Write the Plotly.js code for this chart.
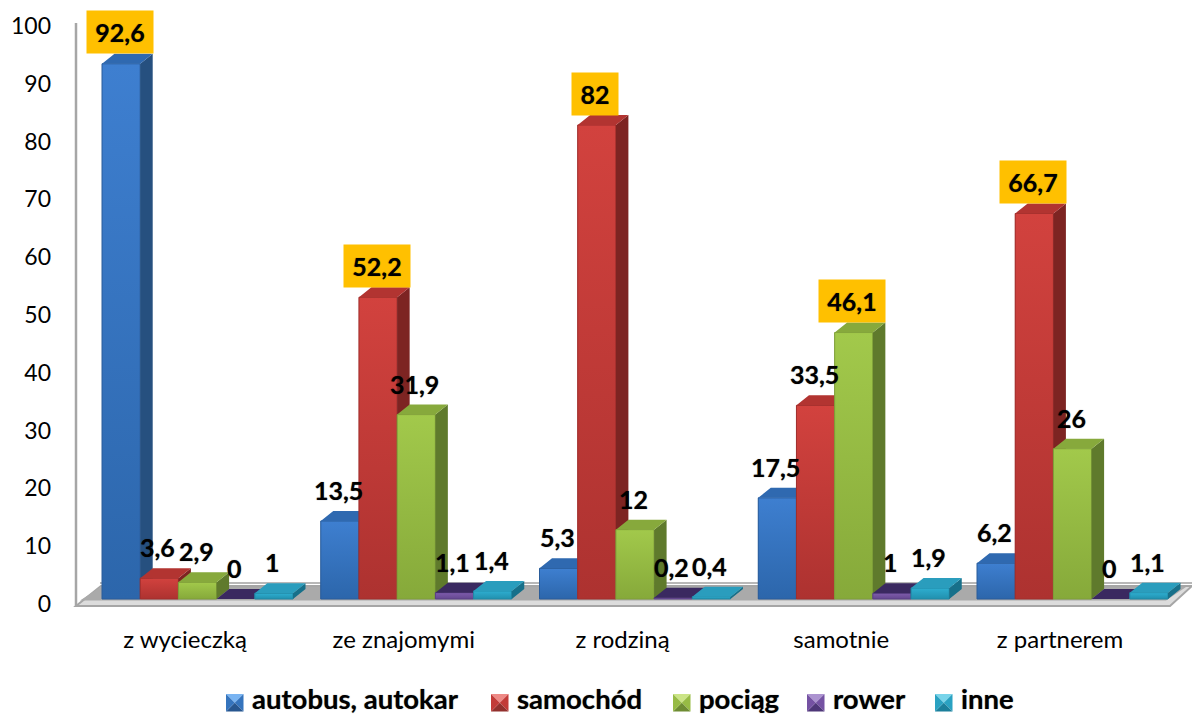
<!DOCTYPE html>
<html><head><meta charset="utf-8">
<script src="https://cdn.plot.ly/plotly-3.0.1.min.js"></script>
<style>html,body{margin:0;padding:0;background:#fff}#c{width:1192px;height:715px}</style></head>
<body><div id="c"></div>
<script>
const categories = ["z wycieczką","ze znajomymi","z rodziną","samotnie","z partnerem"];
const seriesNames = ["autobus, autokar","samochód","pociąg","rower","inne"];
const autobus = [92.6,13.5,5.3,17.5,6.2];
const samochod = [3.6,52.2,82,33.5,66.7];
const pociag = [2.9,31.9,12,46.1,26];
const rower = [0,1.1,0.2,1,0];
const inne = [1,1.4,0.4,1.9,1.1];
const yTicks = [0,10,20,30,40,50,60,70,80,90,100];

const W=1192,H=715,mL=62,mR=0,mT=10,mB=100;
const pxPerCat=218.75,pxPerUnit=5.78,x0px=197.5,y0px=599;
const barPx=38.2,dxPx=12.5,dyPx=10;
const xr=[(mL-x0px)/pxPerCat,(W-mR-x0px)/pxPerCat];
const yr=[(y0px-(H-mB))/pxPerUnit,(y0px-mT)/pxPerUnit];
const bw=barPx/pxPerCat,dx=dxPx/pxPerCat,dy=dyPx/pxPerUnit;
const px2x=p=>(p-mL)/(W-mL-mR), px2y=p=>(H-mB-p)/(H-mT-mB);

const palette=[
 {top:'#2f69b0',front0:'#3e7fd0',front1:'#2c66ab',side:'#26507f',edge:'#2a5c9a',sw:['#79b4f2','#3574bd','#27568f','#3574bd']},
 {top:'#b23431',front0:'#d2423e',front1:'#ad3230',side:'#7d2422',edge:'#a02e2c',sw:['#ee8a86','#c23b38','#92302d','#c23b38']},
 {top:'#87a93c',front0:'#a2c94b',front1:'#86a93a',side:'#5f7a2c',edge:'#7e9e38',sw:['#cbe486','#97bb45','#6e8c33','#97bb45']},
 {top:'#3a2960',front0:'#7e5cab',front1:'#644790',side:'#3f2c60',edge:'#5a4085',sw:['#ac93d0','#7552a3','#4e3778','#7552a3']},
 {top:'#2a9dbd',front0:'#2eaed0',front1:'#2190ae',side:'#17708a',edge:'#2088a5',sw:['#78d4ea','#2aa2c2','#1b7f9b','#2aa2c2']}
];
const allSeries=[autobus,samochod,pociag,rower,inne];
const traces=[];
allSeries.forEach((vals,k)=>{
  const n=k===0?'':String(k+1), xa='x'+n, ya='y'+n, c=palette[k];
  const off=-2.5*bw+k*bw;
  traces.push({type:'bar',name:seriesNames[k],x:categories.map((_,i)=>i),y:vals,offset:off,width:bw,
    marker:{color:c.front1,line:{width:0}},xaxis:xa,yaxis:ya,hoverinfo:'skip',showlegend:false});
  const poly=(xs,ys,color,extra)=>traces.push(Object.assign({type:'scatter',mode:'lines',x:xs,y:ys,fill:'toself',
    fillcolor:color,line:{width:0},xaxis:xa,yaxis:ya,hoverinfo:'skip',showlegend:false},extra||{}));
  const sx=[],sy=[],tx=[],ty=[];
  vals.forEach((v,i)=>{
    const l=i+off,r=l+bw;
    sx.push(r,r+dx,r+dx,r,r,null); sy.push(v,v+dy,dy,0,v,null);
    tx.push(l,r,r+dx,l+dx,l,null); ty.push(v,v,v+dy,v+dy,v,null);
    if(v>0){
      poly([l,r,r,l,l],[v,v,0,0,v],c.front1,{
        fillgradient:{type:'vertical',colorscale:[[0,c.front1],[1,c.front0]],start:0,stop:v},
        line:{width:1,color:c.edge}});
    }
  });
  poly(sx,sy,c.side);
  poly(tx,ty,c.top);
});

const axCommon={visible:false,fixedrange:true};
const labelOffset=-12.5/pxPerCat;
const layout={width:W,height:H,autosize:false,paper_bgcolor:'#fff',plot_bgcolor:'rgba(0,0,0,0)',
  margin:{l:mL,r:mR,t:mT,b:mB,pad:0},showlegend:false,
  font:{family:'Lato, sans-serif',color:'#000'},
  xaxis:{type:'linear',range:xr,tickmode:'array',tickvals:categories.map((_,i)=>i+labelOffset),ticktext:categories,
    showgrid:false,zeroline:false,showline:false,ticks:'',ticklabelstandoff:8,
    tickfont:{family:'Lato, sans-serif',size:24,color:'#000'},fixedrange:true},
  yaxis:{type:'linear',range:yr,tickmode:'array',tickvals:yTicks,ticktext:yTicks.map(String),
    showgrid:false,zeroline:false,showline:false,ticks:'',ticklabelshift:5,ticklabelstandoff:10,
    tickfont:{family:'Lato, sans-serif',size:23,color:'#000'},fixedrange:true},
  shapes:[],annotations:[]};
for(let k=2;k<=5;k++){
  layout['xaxis'+k]=Object.assign({},axCommon,{range:xr,overlaying:'x',anchor:'y'+k,type:'linear'});
  layout['yaxis'+k]=Object.assign({},axCommon,{range:yr,overlaying:'y',anchor:'x'+k,type:'linear'});
}
const pPath=pts=>'M'+pts.map(p=>px2x(p[0])+','+px2y(p[1])).join('L')+'Z';
const paperShape=(pts,fill,line)=>({type:'path',xref:'paper',yref:'paper',path:pPath(pts),fillcolor:fill,
   line:line||{width:0},layer:'below'});
const paperLine=(x0,y0,x1,y1,color,width)=>({type:'line',xref:'paper',yref:'paper',x0:px2x(x0),x1:px2x(x1),y0:px2y(y0),y1:px2y(y1),line:{color,width},layer:'below'});
// floor and wall
layout.shapes.push(paperLine(100,583,1192,583,'#b8b8b8',2));
layout.shapes.push(paperShape([[76,606],[1170,606],[1192,586],[101,586]],'#dcdcdc',{color:'#a6a6a6',width:2}));
layout.shapes.push(paperShape([[80,600.5],[1166,600.5],[1186,587],[101,587]],'#aaaaaa'));
layout.shapes.push(paperLine(76,23,76,607,'#a6a6a6',2.5));

// data labels
const shadow='0 0 1px rgba(0,0,0,0.55)';
allSeries.forEach((vals,k)=>{
  vals.forEach((v,i)=>{
    const groupMax=Math.max(...allSeries.map(s=>s[i]));
    const txt=String(v).replace('.',',');
    const hi=v===groupMax;
    const a={xref:'x',yref:'y',x:i-2.5*bw+k*bw+bw/2,y:v,text:'<b>'+txt+'</b>',showarrow:false,
      xshift:-1.5,yshift:hi?31.5:31,font:{family:'Lato, sans-serif',size:25,color:'#000',shadow},xanchor:'center',yanchor:'middle'};
    if(hi){a.bgcolor='#FFC000';a.width=txt.length>2?66:46;a.height=42;a.borderpad=0;}
    layout.annotations.push(a);
  });
});
// legend
const legendSw=[226,491,673,807,935];
seriesNames.forEach((nm,k)=>{
  const x=legendSw[k],y=694,s=17.5,m=[x+s/2,y+s/2],c=palette[k].sw;
  const tl=[x,y],tr=[x+s,y],br=[x+s,y+s],bl=[x,y+s];
  layout.shapes.push(paperShape([tl,tr,m],c[0]),paperShape([tr,br,m],c[3]),paperShape([br,bl,m],c[2]),paperShape([bl,tl,m],c[1]));
  layout.annotations.push({xref:'paper',yref:'paper',x:px2x(x+24),y:px2y(698),xanchor:'left',yanchor:'middle',
    text:'<b>'+nm+'</b>',showarrow:false,font:{family:'Lato, sans-serif',size:27.5,color:'#000',shadow}});
});
Plotly.newPlot('c',traces,layout,{displayModeBar:false,staticPlot:true});
</script></body></html>
